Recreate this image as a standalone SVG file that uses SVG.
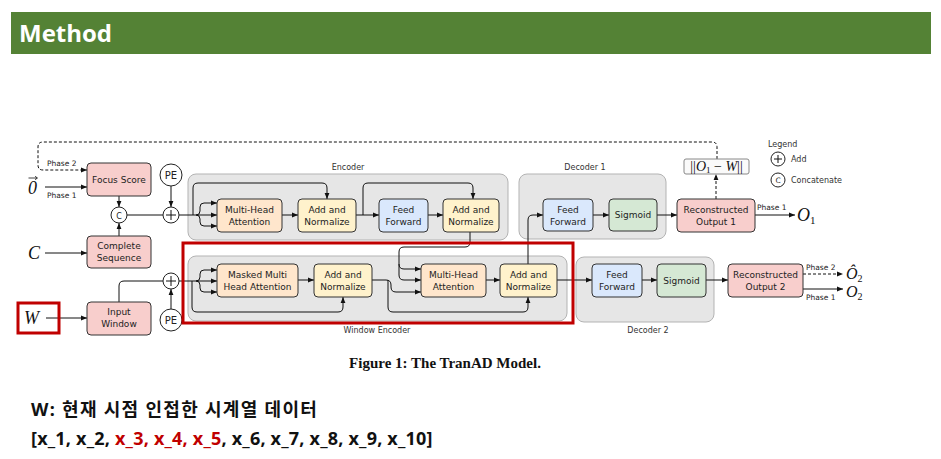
<svg xmlns="http://www.w3.org/2000/svg" width="941" height="459" viewBox="0 0 941 459">
<defs>
<marker id="ah" viewBox="0 0 10 10" refX="10" refY="5" markerWidth="6" markerHeight="6" markerUnits="userSpaceOnUse" orient="auto">
<path d="M0,1 L10,5 L0,9 z" fill="#111"/>
</marker>
<style>
.cont{fill:#e6e6e6;stroke:#b3b3b3;stroke-width:1}
.nd{stroke:#333;stroke-width:1}
.pink{fill:#f8cecc}.peach{fill:#ffe6cc}.yel{fill:#fff2cc}.blue{fill:#dae8fc}.grn{fill:#d5e8d4}
.t{font-family:"DejaVu Sans",sans-serif;font-size:9px;fill:#222;text-anchor:middle}
.lab{font-family:"DejaVu Sans",sans-serif;font-size:8px;fill:#333;text-anchor:middle}
.labs{font-family:"DejaVu Sans",sans-serif;font-size:8px;fill:#333;text-anchor:start}
.ph{font-family:"DejaVu Sans",sans-serif;font-size:7.5px;fill:#222}
.m{font-family:"Liberation Serif",serif;font-style:italic;font-size:18px;fill:#111}
.c{fill:#fff;stroke:#222;stroke-width:1}
.ln{fill:none;stroke:#111;stroke-width:1}
.arr{fill:none;stroke:#111;stroke-width:1;marker-end:url(#ah)}
.dash{stroke-dasharray:3,2}
</style>
</defs>
<rect width="941" height="459" fill="#fff"/>
<g id="header">
<rect x="11" y="12" width="920" height="42" fill="#548235"/>
<text x="19" y="42" font-family="'Open Sans',sans-serif" font-weight="bold" font-size="24" fill="#fff">Method</text>
</g>

<g id="containers">
<rect class="cont" x="188" y="174" width="320" height="66" rx="8"/>
<text class="lab" x="348" y="170">Encoder</text>
<rect class="cont" x="519" y="174" width="147" height="65" rx="8"/>
<text class="lab" x="585" y="170">Decoder 1</text>
<rect class="cont" x="188" y="256" width="379" height="65" rx="8"/>
<text class="lab" x="377" y="333">Window Encoder</text>
<rect class="cont" x="576" y="257" width="138" height="65" rx="8"/>
<text class="lab" x="648" y="333">Decoder 2</text>
</g>

<g id="connectors">
<path class="arr dash" d="M717 159 V147 Q717 142 712 142 H43 Q38 142 38 147 V165 Q38 170 43 170 H87"/>
<text class="ph" x="47" y="166">Phase 2</text>
<path class="arr" d="M45 187 H87"/>
<text class="ph" x="47" y="198">Phase 1</text>
<path class="arr" d="M45 253 H87"/>
<path class="arr" d="M119 196 V207"/>
<path class="arr" d="M119 236 V223"/>
<path class="ln" d="M127 215 H163"/>
<path class="arr" d="M171 186 V207"/>
<path class="arr" d="M179 215 H217"/>
<path class="arr" d="M196 215 Q200 215 200 211 V207 Q200 203 204 203 H217"/>
<path class="arr" d="M196 215 Q200 215 200 219 V222 Q200 226 204 226 H217"/>
<path class="arr" d="M193 215 V188 Q193 183 198 183 H322 Q327 183 327 188 V199"/>
<path class="arr" d="M282 215 H298"/>
<path class="arr" d="M356 215 H379"/>
<path class="arr" d="M363 215 V188 Q363 183 368 183 H468 Q473 183 473 188 V199"/>
<path class="arr" d="M428 215 H443"/>
<path class="arr" d="M470 232 V242 Q470 247 465 247 H404 Q399 247 399 252 V264 Q399 269 404 269 H421"/>
<path class="arr" d="M399 264 V275 Q399 280 404 280 H421"/>
<path class="arr" d="M593 215 H609"/>
<path class="arr" d="M657 215 H677"/>
<path class="arr dash" d="M716 199 V174"/>
<path class="arr" d="M755 215 H795"/>
<text class="ph" x="757" y="210">Phase 1</text>

<path class="arr" d="M46 318 H87"/>
<path class="ln" d="M119 302 V286 Q119 281 124 281 H163"/>
<path class="arr" d="M171 309 V289"/>
<path class="arr" d="M179 281 H217"/>
<path class="arr" d="M196 281 Q200 281 200 277 V274 Q200 270 204 270 H217"/>
<path class="arr" d="M196 281 Q200 281 200 285 V288 Q200 292 204 292 H217"/>
<path class="arr" d="M192 281 V307 Q192 312 197 312 H338 Q343 312 343 307 V297"/>
<path class="arr" d="M298 280 H314"/>
<path class="arr" d="M372 280 H386 Q391 280 391 285 V287 Q391 292 396 292 H421"/>
<path class="arr" d="M388 280 V307 Q388 312 393 312 H523 Q528 312 528 307 V297"/>
<path class="arr" d="M486 280 H500"/>
<path class="arr" d="M528 264 V220 Q528 215 533 215 H543"/>
<path class="arr" d="M557 280 H592"/>
<path class="arr" d="M642 280 H657"/>
<path class="arr" d="M706 280 H728"/>
<path class="arr dash" d="M803 274 H843"/>
<text class="ph" x="806" y="270">Phase 2</text>
<path class="arr" d="M803 289 H843"/>
<text class="ph" x="806" y="300">Phase 1</text>
</g>

<g id="inputs">
<text class="m" x="28" y="194" font-style="normal">0</text>
<path d="M28.5 178 H37" stroke="#111" stroke-width="0.8"/><path d="M35 176.3 L37.5 178 L35 179.7" fill="none" stroke="#111" stroke-width="0.8"/>
<text class="m" x="28" y="259">C</text>
<text class="m" x="24" y="324">W</text>
<rect x="18" y="303" width="41" height="30" fill="none" stroke="#c00000" stroke-width="3"/>
</g>

<g id="focus-score"><rect class="nd pink" x="87" y="163" width="64" height="33" rx="4"/><text class="t" x="119" y="183">Focus Score</text></g>
<g id="complete-sequence"><rect class="nd pink" x="87" y="236" width="64" height="32" rx="4"/><text class="t" x="119" y="249">Complete</text><text class="t" x="119" y="261">Sequence</text></g>
<g id="input-window"><rect class="nd pink" x="87" y="302" width="64" height="33" rx="4"/><text class="t" x="119" y="315">Input</text><text class="t" x="119" y="327">Window</text></g>
<g id="concat"><circle class="c" cx="119" cy="215" r="8"/><text class="t" x="119" y="218.5" style="font-size:8px">C</text></g>
<g id="pe-top"><circle class="c" cx="171" cy="175" r="11"/><text class="t" x="171" y="179" style="font-size:10px">PE</text></g>
<g id="add-top"><circle class="c" cx="171" cy="215" r="8"/><path d="M166 215 H176 M171 210 V220" stroke="#111"/></g>
<g id="pe-bottom"><circle class="c" cx="171" cy="320" r="11"/><text class="t" x="171" y="324" style="font-size:10px">PE</text></g>
<g id="add-bottom"><circle class="c" cx="171" cy="281" r="8"/><path d="M166 281 H176 M171 276 V286" stroke="#111"/></g>

<g id="enc-mha"><rect class="nd peach" x="217" y="199" width="65" height="33" rx="4"/><text class="t" x="249.5" y="213">Multi-Head</text><text class="t" x="249.5" y="225">Attention</text></g>
<g id="enc-an1"><rect class="nd yel" x="298" y="199" width="58" height="33" rx="4"/><text class="t" x="327" y="213">Add and</text><text class="t" x="327" y="225">Normalize</text></g>
<g id="enc-ff"><rect class="nd blue" x="379" y="199" width="49" height="33" rx="4"/><text class="t" x="403.5" y="213">Feed</text><text class="t" x="403.5" y="225">Forward</text></g>
<g id="enc-an2"><rect class="nd yel" x="443" y="199" width="56" height="33" rx="4"/><text class="t" x="471" y="213">Add and</text><text class="t" x="471" y="225">Normalize</text></g>

<g id="d1-ff"><rect class="nd blue" x="543" y="199" width="50" height="32" rx="4"/><text class="t" x="568" y="213">Feed</text><text class="t" x="568" y="225">Forward</text></g>
<g id="d1-sig"><rect class="nd grn" x="609" y="199" width="48" height="32" rx="4"/><text class="t" x="633" y="218">Sigmoid</text></g>
<g id="rec-out1"><rect class="nd pink" x="677" y="199" width="78" height="33" rx="4"/><text class="t" x="716" y="213">Reconstructed</text><text class="t" x="716" y="225">Output 1</text></g>
<g id="norm-box"><rect x="684" y="159" width="65" height="15" rx="2" fill="#fafafa" stroke="#888"/><text class="m" x="716.5" y="171" style="font-size:14px;text-anchor:middle"><tspan font-style="normal">||</tspan>O<tspan font-size="9" font-style="normal" dy="2">1</tspan><tspan dy="-2" font-style="normal"> − </tspan>W<tspan font-style="normal">||</tspan></text></g>
<g id="o1"><text class="m" x="797" y="221">O<tspan font-size="11" font-style="normal" dy="3">1</tspan></text></g>

<g id="we-mmha"><rect class="nd peach" x="217" y="264" width="81" height="33" rx="4"/><text class="t" x="257.5" y="278">Masked Multi</text><text class="t" x="257.5" y="290">Head Attention</text></g>
<g id="we-an1"><rect class="nd yel" x="314" y="264" width="58" height="33" rx="4"/><text class="t" x="343" y="278">Add and</text><text class="t" x="343" y="290">Normalize</text></g>
<g id="we-mha"><rect class="nd peach" x="421" y="264" width="65" height="33" rx="4"/><text class="t" x="453.5" y="278">Multi-Head</text><text class="t" x="453.5" y="290">Attention</text></g>
<g id="we-an2"><rect class="nd yel" x="500" y="264" width="57" height="33" rx="4"/><text class="t" x="528.5" y="278">Add and</text><text class="t" x="528.5" y="290">Normalize</text></g>

<g id="d2-ff"><rect class="nd blue" x="592" y="264" width="50" height="33" rx="4"/><text class="t" x="617" y="278">Feed</text><text class="t" x="617" y="290">Forward</text></g>
<g id="d2-sig"><rect class="nd grn" x="657" y="264" width="49" height="33" rx="4"/><text class="t" x="681.5" y="284">Sigmoid</text></g>
<g id="rec-out2"><rect class="nd pink" x="728" y="264" width="75" height="33" rx="4"/><text class="t" x="765.5" y="278">Reconstructed</text><text class="t" x="765.5" y="290">Output 2</text></g>
<g id="o2hat"><text class="m" x="846" y="279" style="font-size:16px">Ô<tspan font-size="10" font-style="normal" dy="3">2</tspan></text></g>
<g id="o2"><text class="m" x="846" y="297" style="font-size:16px">O<tspan font-size="10" font-style="normal" dy="3">2</tspan></text></g>

<g id="legend">
<text class="labs" x="768" y="147">Legend</text>
<circle class="c" cx="778" cy="159" r="7"/><path d="M774 159 H782 M778 155 V163" stroke="#111"/>
<text class="labs" x="791" y="162">Add</text>
<circle class="c" cx="778" cy="180" r="7"/><text class="t" x="778" y="183" style="font-size:7.5px">C</text>
<text class="labs" x="791" y="183">Concatenate</text>
</g>

<rect id="highlight" x="183" y="243" width="390" height="80" fill="none" stroke="#c00000" stroke-width="3"/>

<text x="445" y="368" text-anchor="middle" font-family="'Liberation Serif',serif" font-weight="bold" font-size="15" fill="#111">Figure 1: The TranAD Model.</text>

<g id="notes" font-family="'Noto Sans','Noto Sans CJK KR',sans-serif" font-weight="bold" font-size="18" fill="#111">
<text x="31" y="416" letter-spacing="1.3">W: 현재 시점 인접한 시계열 데이터</text>
<text x="31" y="445" letter-spacing="0.2">[x_1, x_2, <tspan fill="#c00000">x_3, x_4, x_5</tspan>, x_6, x_7, x_8, x_9, x_10]</text>
</g>
</svg>
